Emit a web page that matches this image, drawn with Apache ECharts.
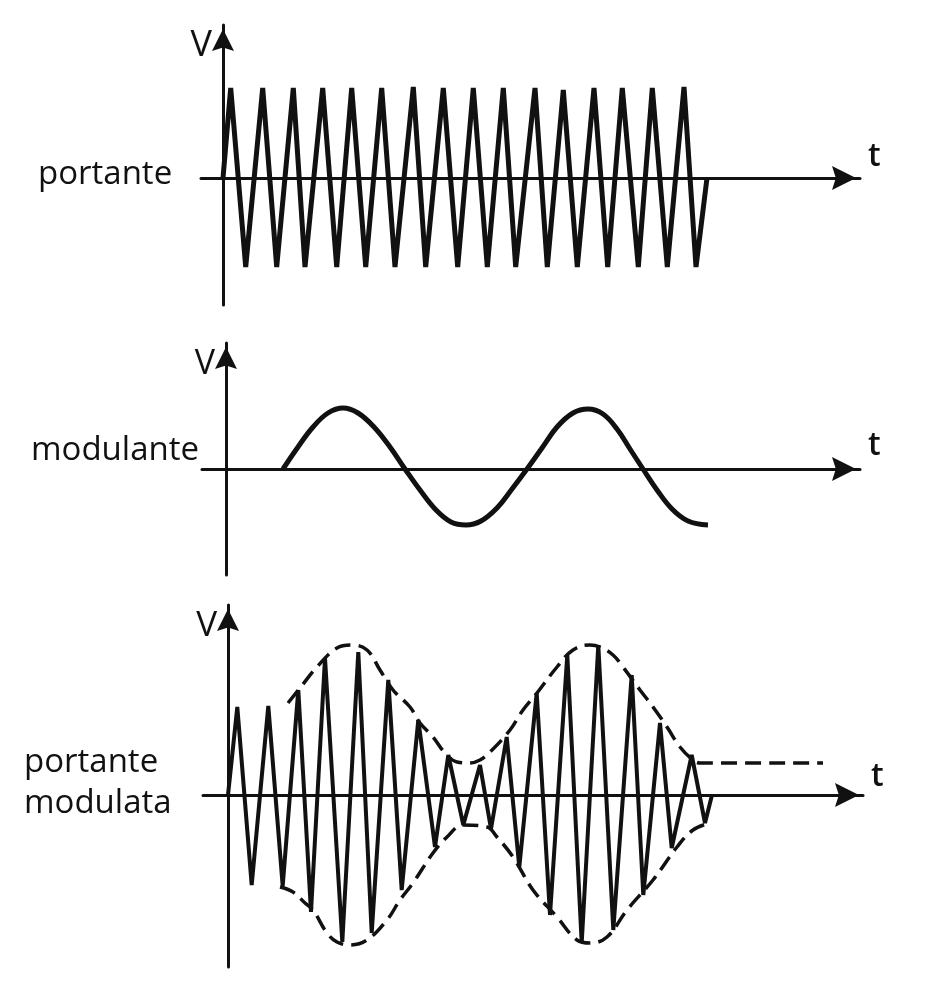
<!DOCTYPE html>
<html>
<head>
<meta charset="utf-8">
<script src="https://cdn.jsdelivr.net/npm/echarts@6/dist/echarts.min.js"></script>
<style>
html,body{margin:0;padding:0;background:#ffffff;}
#chart{width:937px;height:994px;}
</style>
</head>
<body>
<div id="chart"></div>
<script>
// ---- labels ----
const panelLabels = ['portante', 'modulante', 'portante\nmodulata'];
const timeAxisName = 't';
const voltAxisName = 'V';

// ---- panel 1: carrier (portante), triangle wave ----
const carrierT = [0, 0.77, 2.27, 3.97, 5.37, 7.03, 8.2, 9.97, 11.37, 12.87, 14.27, 15.87, 17.2, 19.03, 20.27, 22.03, 23.47,
  25.03, 26.43, 28.03, 29.27, 31.2, 32.43, 34.03, 35.43, 37.1, 38.47, 39.93, 41.53, 42.93, 44.43, 46.1, 47.3, 48.4];
const carrierV = [0, 9.0, -8.9, 9.0, -8.9, 9.0, -8.9, 9.0, -8.9, 9.0, -8.9, 9.0, -8.9, 9.1, -8.9, 9.0, -8.9,
  9.0, -8.9, 9.0, -8.9, 9.0, -8.9, 8.8, -8.9, 9.0, -8.9, 9.0, -8.9, 9.0, -8.9, 9.1, -8.9, 0];

// ---- panel 2: modulating signal (modulante) ----
const modT = [5.7, 7.2, 8.7, 10.2, 11.7, 13.2, 14.8, 16.4, 17.9, 19.4, 21.0, 22.5, 24.0, 25.5, 27.1, 28.6,
  30.1, 31.6, 33.1, 34.7, 36.2, 37.7, 39.1, 40.4, 41.7, 43.1, 44.6, 46.2, 48.2];
const modV = [0, 2.2, 4.2, 5.6, 6.1, 5.6, 4.2, 2.2, 0, -2.1, -4.1, -5.3, -5.6, -5.2, -3.9, -2.0,
  0, 2.1, 4.2, 5.6, 6.0, 5.5, 4.0, 2.0, 0, -2.1, -4.0, -5.2, -5.6];

// ---- panel 3: modulated carrier (portante modulata) ----
const amT = [0, 0.93, 2.37, 4.03, 5.47, 7.03, 8.3, 9.7, 11.43, 13.03, 14.37, 16.03, 17.37, 19.03, 20.7, 22.03, 23.53,
  25.2, 26.3, 27.87, 29.13, 30.87, 32.2, 33.93, 35.37, 37.03, 38.53, 40.37, 41.53, 43.2, 44.37, 46.37, 47.7, 48.4];
const amV = [0, 8.8, -9.0, 8.9, -9.1, 10.5, -11.7, 13.7, -14.7, 14.3, -13.8, 11.5, -9.5, 7.5, -5.2, 4.0, -3.0,
  3.0, -3.4, 5.8, -7.2, 10.2, -12.0, 14.0, -14.8, 15.0, -13.5, 12.0, -10.0, 7.2, -5.3, 4.0, -2.8, 0];

// envelope (dashed)
const envUpT = [6.0, 7.2, 8.9, 10.9, 12.4, 13.9, 15.2, 16.5, 18.2, 19.2, 20.5, 21.7, 22.9, 24.2, 25.2, 26.2, 28.2, 29.5,
  30.9, 32.9, 34.5, 36.2, 37.2, 38.5, 39.5, 41.2, 42.5, 43.9, 45.2, 46.5, 47.2, 59.5];
const envUpV = [9.2, 10.7, 12.8, 14.7, 15.0, 14.5, 12.5, 10.5, 8.8, 7.2, 5.8, 4.2, 3.3, 3.2, 3.5, 4.3, 6.5, 8.5,
  10.2, 12.8, 14.5, 15.0, 14.8, 14.0, 12.8, 10.5, 8.8, 6.8, 4.8, 3.5, 3.2, 3.2];
const envLoT = [5.2, 6.5, 7.7, 8.5, 9.9, 10.9, 12.2, 13.9, 15.9, 17.2, 18.5, 20.5, 21.9, 23.5, 25.9, 26.9, 28.5,
  30.5, 32.9, 34.9, 36.2, 37.9, 39.9, 42.5, 44.9, 46.5, 48.2];
const envLoV = [-9.2, -9.7, -10.8, -11.5, -13.8, -14.7, -15.0, -14.5, -12.5, -10.5, -8.8, -5.8, -4.2, -3.0, -3.2, -4.2, -6.2,
  -9.5, -12.2, -14.5, -14.8, -14.2, -11.5, -8.5, -5.2, -3.5, -2.8];

function zip(a, b) { return a.map((v, i) => [v, b[i]]); }

const INK = '#111111';
const FONT = "'Open Sans', 'Noto Sans', sans-serif";
const ARROW = 'path://M50,0 L100,100 L50,84 L0,100 Z';

// panel geometry
const panels = [
  { left: 201, width: 659, top: 25, height: 280, xMin: -2.2, xMax: 63.7, yMin: -12.7, yMax: 15.3, vSize: 36, tPad: 5 },
  { left: 202, width: 658, top: 343, height: 232, xMin: -2.4, xMax: 63.4, yMin: -10.6, yMax: 12.6, vSize: 34, tPad: 7 },
  { left: 203, width: 660, top: 605, height: 362, xMin: -2.5, xMax: 63.5, yMin: -17.2, yMax: 19.0, vSize: 35, tPad: 2 }
];

const grids = panels.map(p => ({ left: p.left, top: p.top, width: p.width, height: p.height, outerBoundsMode: 'none' }));

const xAxes = panels.map((p, i) => ({
  type: 'value', gridIndex: i, min: p.xMin, max: p.xMax,
  name: timeAxisName, nameLocation: 'end', nameGap: 8,
  nameTextStyle: { color: INK, fontSize: 32, fontWeight: 600, fontFamily: FONT, verticalAlign: 'bottom', align: 'left', padding: [0, 0, p.tPad, 0] },
  axisLine: { show: true, onZero: true, symbol: ['none', ARROW], symbolSize: [24, 32], symbolOffset: [0, -16],
    lineStyle: { color: INK, width: 3 } },
  axisTick: { show: false }, axisLabel: { show: false }, splitLine: { show: false }
}));

const yAxes = panels.map((p, i) => ({
  type: 'value', gridIndex: i, min: p.yMin, max: p.yMax,
  name: voltAxisName, nameLocation: 'end', nameGap: -21,
  nameTextStyle: { color: INK, fontSize: p.vSize, fontFamily: FONT, align: 'right', verticalAlign: 'middle', padding: [0, 11, 0, 0] },
  axisLine: { show: true, onZero: true, symbol: ['none', ARROW], symbolSize: [22, 30], symbolOffset: [0, -15],
    lineStyle: { color: INK, width: 3 } },
  axisTick: { show: false }, axisLabel: { show: false }, splitLine: { show: false }
}));

const titles = [
  { text: panelLabels[0], left: 38, top: 154 },
  { text: panelLabels[1], left: 31, top: 430 },
  { text: panelLabels[2], left: 24, top: 742 }
].map(t => Object.assign(t, {
  textStyle: { color: INK, fontSize: 33, fontWeight: 'normal', fontFamily: FONT, lineHeight: 41 },
  padding: 0
}));

function lineSeries(data, xi, width, extra) {
  return Object.assign({
    type: 'line', xAxisIndex: xi, yAxisIndex: xi, data: data,
    showSymbol: false, symbol: 'none', silent: true, animation: false,
    lineStyle: { color: INK, width: width }
  }, extra || {});
}

const dashed = { color: INK, width: 3.5, type: [16, 8] };

const option = {
  backgroundColor: '#ffffff',
  animation: false,
  title: titles,
  grid: grids,
  xAxis: xAxes,
  yAxis: yAxes,
  series: [
    lineSeries(zip(carrierT, carrierV), 0, 5),
    lineSeries(zip(modT, modV), 1, 5, { smooth: 0.4 }),
    lineSeries(zip(envUpT, envUpV), 2, 3.5, { smooth: 0.4, lineStyle: dashed }),
    lineSeries(zip(envLoT, envLoV), 2, 3.5, { smooth: 0.4, lineStyle: dashed }),
    lineSeries(zip(amT, amV), 2, 4)
  ]
};

const chart = echarts.init(document.getElementById('chart'), null, { renderer: 'canvas' });
chart.setOption(option);
</script>
</body>
</html>
